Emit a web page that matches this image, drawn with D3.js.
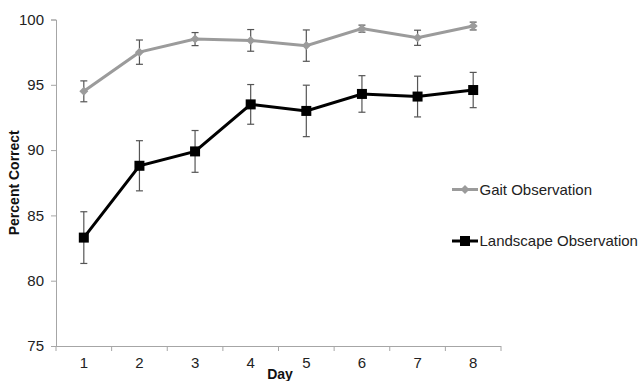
<!DOCTYPE html>
<html>
<head>
<meta charset="utf-8">
<script src="https://cdn.jsdelivr.net/npm/d3@7"></script>
<style>
  body { margin: 0; background: #fff; }
  svg { display: block; font-family: "Liberation Sans", Arial, sans-serif; }
</style>
</head>
<body>
<div id="chart"></div>
<script>
const days = [1, 2, 3, 4, 5, 6, 7, 8];
const gaitMean = [94.5, 97.5, 98.5, 98.4, 98.0, 99.3, 98.6, 99.5];
const gaitErr = [0.8, 0.93, 0.5, 0.83, 1.2, 0.27, 0.58, 0.3];
const landMean = [83.3, 88.8, 89.9, 93.5, 93.0, 94.3, 94.1, 94.6];
const landErr = [1.98, 1.92, 1.6, 1.52, 1.97, 1.4, 1.56, 1.35];
const yTicks = [75, 80, 85, 90, 95, 100];

const width = 638, height = 381;
const margin = { top: 19.5, right: 137, bottom: 35, left: 56 };

const svg = d3.select('#chart').append('svg')
  .attr('width', width)
  .attr('height', height);

const x = d3.scaleBand()
  .domain(days)
  .range([margin.left, width - margin.right])
  .padding(0);

const y = d3.scaleLinear()
  .domain([75, 100])
  .range([height - margin.bottom, margin.top]);

const cx = d => x(d) + x.bandwidth() / 2;

// axes
const xAxis = svg.append('g')
  .attr('transform', `translate(0,${height - margin.bottom})`)
  .call(d3.axisBottom(x).tickSize(5).tickFormat(''));
xAxis.selectAll('.tick').remove();
xAxis.select('.domain').attr('stroke', '#a6a6a6').attr('d', `M${margin.left},0.5H${width - margin.right}`);
// category boundary ticks (between days)
xAxis.selectAll('line.bound')
  .data(days.concat([null]))
  .enter()
  .append('line')
  .attr('class', 'bound')
  .attr('x1', (d, i) => i < days.length ? x(d) : x(days[days.length - 1]) + x.bandwidth())
  .attr('x2', (d, i) => i < days.length ? x(d) : x(days[days.length - 1]) + x.bandwidth())
  .attr('y1', 0)
  .attr('y2', 5)
  .attr('stroke', '#a6a6a6');
xAxis.selectAll('text.day')
  .data(days)
  .enter()
  .append('text')
  .attr('class', 'day')
  .attr('x', d => cx(d))
  .attr('y', 22)
  .attr('text-anchor', 'middle')
  .style('font-size', '15px')
  .style('fill', '#222')
  .text(d => d);

const yAxis = svg.append('g')
  .attr('transform', `translate(${margin.left},0)`)
  .call(d3.axisLeft(y).tickValues(yTicks).tickSize(5).tickPadding(7));
yAxis.select('.domain').attr('stroke', '#a6a6a6');
yAxis.selectAll('.tick line').attr('stroke', '#a6a6a6');
yAxis.selectAll('.tick text')
  .style('font-size', '15px')
  .style('fill', '#222')
  .style('font-family', '"Liberation Sans", Arial, sans-serif');

// axis titles
svg.append('text')
  .attr('x', 280)
  .attr('y', 379)
  .attr('text-anchor', 'middle')
  .style('font-size', '14px')
  .style('font-weight', 'bold')
  .style('fill', '#111')
  .text('Day');

svg.append('text')
  .attr('transform', `translate(19,${(margin.top + height - margin.bottom) / 2}) rotate(-90)`)
  .attr('text-anchor', 'middle')
  .style('font-size', '14px')
  .style('font-weight', 'bold')
  .style('fill', '#111')
  .text('Percent Correct');

const series = [
  { name: 'Gait Observation', mean: gaitMean, err: gaitErr, color: '#9b9b9b', marker: 'diamond' },
  { name: 'Landscape Observation', mean: landMean, err: landErr, color: '#000', marker: 'square' }
];

const line = d3.line();

series.forEach(s => {
  const g = svg.append('g');
  const pts = days.map((d, i) => [cx(d), y(s.mean[i])]);

  // error bars
  days.forEach((d, i) => {
    const px = cx(d);
    const top = y(s.mean[i] + s.err[i]);
    const bot = y(s.mean[i] - s.err[i]);
    g.append('line').attr('x1', px).attr('x2', px).attr('y1', top).attr('y2', bot)
      .attr('stroke', '#555').attr('stroke-width', 1.2);
    [top, bot].forEach(v => {
      g.append('line').attr('x1', px - 3.5).attr('x2', px + 3.5).attr('y1', v).attr('y2', v)
        .attr('stroke', '#555').attr('stroke-width', 1.2);
    });
  });

  g.append('path')
    .attr('d', line(pts))
    .attr('fill', 'none')
    .attr('stroke', s.color)
    .attr('stroke-width', 3);

  pts.forEach(p => drawMarker(g, s, p[0], p[1]));
});

function drawMarker(g, s, px, py) {
  if (s.marker === 'square') {
    g.append('rect').attr('x', px - 5).attr('y', py - 5).attr('width', 10).attr('height', 10).attr('fill', s.color);
  } else {
    g.append('path')
      .attr('d', `M${px},${py - 4.5}L${px + 4.5},${py}L${px},${py + 4.5}L${px - 4.5},${py}Z`)
      .attr('fill', s.color);
  }
}

// legend
const legend = svg.append('g').attr('transform', 'translate(452,0)');
series.forEach((s, i) => {
  const ly = 189.5 + i * 51.5;
  legend.append('line').attr('x1', 0).attr('x2', 26).attr('y1', ly).attr('y2', ly)
    .attr('stroke', s.color).attr('stroke-width', 3);
  drawMarker(legend, s, 13, ly);
  legend.append('text')
    .attr('x', 27.5)
    .attr('y', ly)
    .attr('dy', '0.35em')
    .style('font-size', '15px')
    .style('fill', '#222')
    .text(s.name);
});
</script>
</body>
</html>
